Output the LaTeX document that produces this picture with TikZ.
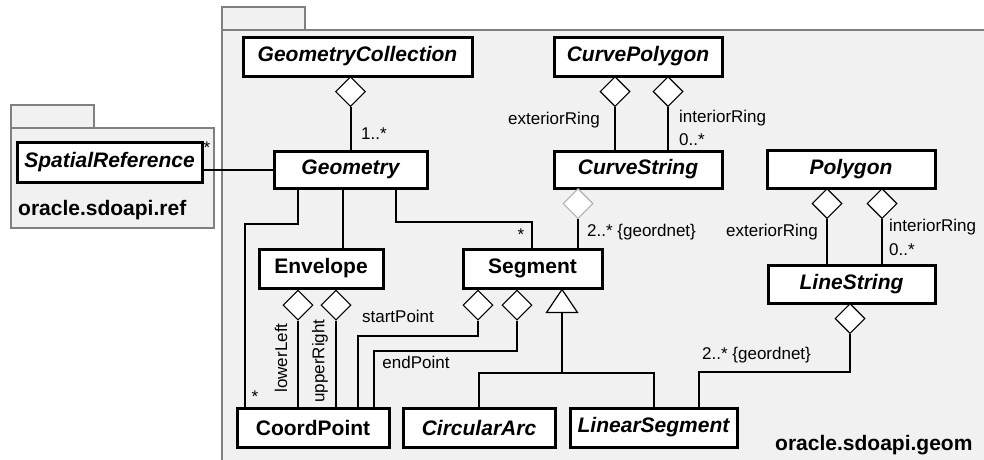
\documentclass[tikz,border=0pt]{standalone}
\usepackage{fontspec}
\setmainfont{Liberation Sans}
\usetikzlibrary{shapes.geometric,calc}
\definecolor{pkgfill}{HTML}{F1F1F1}
\definecolor{pkgline}{HTML}{808080}
\begin{document}
\begin{tikzpicture}[x=1pt,y=-1pt,
  cls/.style={draw=black,line width=3pt,fill=white,inner sep=0pt,font=\fontsize{21}{24}\selectfont\bfseries},
  abscls/.style={cls,font=\fontsize{21}{24}\selectfont\bfseries\itshape},
  dia/.style={draw=black,line width=1.2pt,fill=white,shape=diamond,inner sep=0pt,minimum width=30pt,minimum height=30pt,anchor=north},
  conn/.style={draw=black,line width=2pt},
  lbl/.style={font=\fontsize{17}{20}\selectfont,inner sep=0pt},
  pkg/.style={draw=pkgline,line width=2pt,fill=pkgfill},
  pkgname/.style={font=\fontsize{21}{24}\selectfont\bfseries,inner sep=0pt}
]
\useasboundingbox (0,0) rectangle (984,459);
\fill[white] (0,0) rectangle (984,459);
% packages
\draw[pkg] (222,7) rectangle (305,30);
\draw[pkg] (222,30) rectangle (995,470);
\draw[pkg] (11,105) rectangle (94,128);
\draw[pkg] (11,128) rectangle (214,228);
\node[pkgname,anchor=base west] (pref) at (18,215) {oracle.sdoapi.ref};
\node[pkgname,anchor=base west] (pgeom) at (775,450) {oracle.sdoapi.geom};
% classes
\node[abscls,minimum width=185pt,minimum height=40pt] (sr) at (109.5,162) {SpatialReference};
\node[abscls,minimum width=229pt,minimum height=39pt] (gc) at (357.5,56.5) {GeometryCollection};
\node[abscls,minimum width=153pt,minimum height=37pt] (geo) at (350.5,169.5) {Geometry};
\node[abscls,minimum width=168pt,minimum height=39pt] (cp) at (638,56.5) {CurvePolygon};
\node[abscls,minimum width=168pt,minimum height=37pt] (cs) at (638,169.5) {CurveString};
\node[abscls,minimum width=168pt,minimum height=38pt] (poly) at (851,169) {Polygon};
\node[abscls,minimum width=167pt,minimum height=38pt] (ls) at (851.5,284) {LineString};
\node[cls,minimum width=124pt,minimum height=39pt] (env) at (321,268.5) {Envelope};
\node[cls,minimum width=139pt,minimum height=39pt] (seg) at (532.5,268.5) {Segment};
\node[cls,minimum width=152pt,minimum height=39pt] (pt) at (313,427.5) {CoordPoint};
\node[abscls,minimum width=152pt,minimum height=39pt] (arc) at (479,427.5) {CircularArc};
\node[abscls,minimum width=167pt,minimum height=39pt] (lin) at (653.5,427.5) {LinearSegment};
% SpatialReference - Geometry
\draw[conn] (sr.east |- geo.west) -- (geo.west);
\node[lbl] (srstar) at (207,148) {*};
% GeometryCollection aggregation
\node[dia] (dgc) at (350.5,76) {};
\draw[conn] (dgc.south) -- (geo.north);
\node[lbl] (gcm) at (374,134) {1..*};
% CurvePolygon
\node[dia] (dcp1) at (615,76) {};
\node[dia] (dcp2) at (668,76) {};
\draw[conn] (dcp1.south) -- (dcp1.south |- cs.north);
\draw[conn] (dcp2.south) -- (dcp2.south |- cs.north);
\node[lbl,anchor=east] (cpext) at (600,120) {exteriorRing};
\node[lbl,anchor=west] (cpint) at (679,118) {interiorRing};
\node[lbl,anchor=west] (cpintm) at (679,140) {0..*};
% CurveString - Segment
\node[dia,draw=gray!60] (dcs) at (578,188) {};
\draw[conn] (dcs.south) -- (dcs.south |- seg.north);
\node[lbl,anchor=west] (csm) at (587,232) {2..* \{geordnet\}};
% Polygon - LineString
\node[dia] (dp1) at (827,188) {};
\node[dia] (dp2) at (882,188) {};
\draw[conn] (dp1.south) -- (dp1.south |- ls.north);
\draw[conn] (dp2.south) -- (dp2.south |- ls.north);
\node[lbl,anchor=east] (pext) at (818,232) {exteriorRing};
\node[lbl,anchor=west] (pint) at (889,227) {interiorRing};
\node[lbl,anchor=west] (pintm) at (889,250) {0..*};
% LineString - LinearSegment
\node[dia] (dls) at (850,303) {};
\draw[conn] (dls.south) -- ++(0,38) -| ($(lin.north)+(45.5,0)$);
\node[lbl,anchor=west] (lsm) at (702,355) {2..* \{geordnet\}};
% Geometry connectors
\draw[conn] ($(geo.south)+(-52.5,0)$) -- ++(0,34) -| ($(pt.north)+(-68,0)$);
\draw[conn] ($(geo.south)+(-7.5,0)$) -- ++(0,61);
\draw[conn] ($(geo.south)+(45.5,0)$) -- ++(0,32) -| ($(seg.north)+(-0.5,0)$);
\node[lbl] (segstar) at (521,235) {*};
\node[lbl] (ptstar) at (255,397) {*};
% Envelope - CoordPoint
\node[dia] (de1) at ($(env.south)+(-23,0)$) {};
\node[dia] (de2) at ($(env.south)+(15,0)$) {};
\draw[conn] (de1.south) -- (de1.south |- pt.north);
\draw[conn] (de2.south) -- (de2.south |- pt.north);
\node[lbl,rotate=90] (ll) at (281,358) {lowerLeft};
\node[lbl,rotate=90] (ur) at (320,361) {upperRight};
% Segment - CoordPoint
\node[dia] (ds1) at ($(seg.south)+(-54.5,0)$) {};
\node[dia] (ds2) at ($(seg.south)+(-15.5,0)$) {};
\draw[conn] (ds1.south) -- ++(0,15) -| ($(pt.north)+(45,0)$);
\draw[conn] (ds2.south) -- ++(0,30) -| ($(pt.north)+(61,0)$);
\node[lbl] (sp) at (398,316) {startPoint};
\node[lbl] (ep) at (416,362) {endPoint};
% Generalization
\coordinate (tri) at ($(seg.south)+(29.5,23)$);
\draw[line width=1.2pt,fill=white] ($(seg.south)+(29.5,0)$) -- ($(tri)+(-15.5,0)$) -- ($(tri)+(15.5,0)$) -- cycle;
\draw[conn] (tri) -- ++(0,60) coordinate (j);
\draw[conn] (arc.north) |- (j) -| (lin.north);
\end{tikzpicture}
\end{document}
